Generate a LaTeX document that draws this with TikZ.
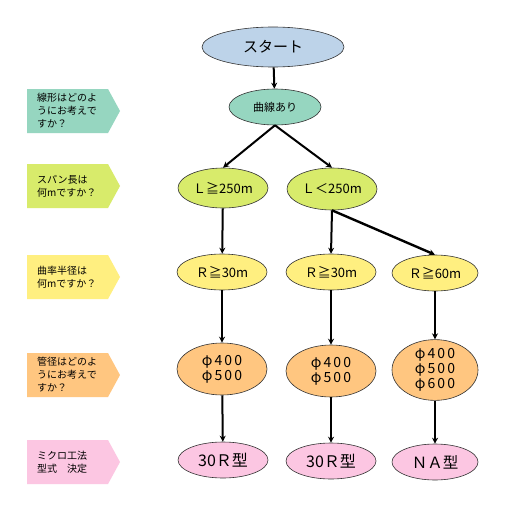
\documentclass[tikz,border=0pt]{standalone}
\usepackage{fontspec}
\setmainfont{Noto Sans CJK JP}
\newfontfamily\widejp[LetterSpace=15]{Noto Sans CJK JP}
\usetikzlibrary{shapes.geometric,arrows.meta}
\definecolor{cstart}{HTML}{BDD3E9}
\definecolor{cteal}{HTML}{96D6C0}
\definecolor{clime}{HTML}{D8EB6B}
\definecolor{cyel}{HTML}{FFEF80}
\definecolor{corange}{HTML}{FFC680}
\definecolor{cpink}{HTML}{FCC6E2}
\tikzset{
  ell/.style={ellipse, draw=black!80, line width=0.6pt, inner sep=0pt, align=center},
  arr/.style={-{Stealth[length=6pt,width=6pt]}, line width=2pt},
  tag/.style={anchor=west, align=left, font=\fontsize{10}{13}\selectfont, inner sep=0pt},
  etext/.style={font=\fontsize{13}{15}\selectfont},
  ptext/.style={font=\widejp\fontsize{14}{15}\selectfont}
}
\newcommand{\tagshape}[3]{% top y, bottom y, colour
  \fill[#3] (27,#1) -- (108,#1) -- (120,{(#1+#2)/2}) -- (108,#2) -- (27,#2) -- cycle;}
\begin{document}
\begin{tikzpicture}[x=1pt,y=-1pt]
\useasboundingbox (0,0) rectangle (511,519);
\fill[white] (0,0) rectangle (511,519);

% left tags
\tagshape{89}{133}{cteal}
\node[tag] (q1) at (37,111) {線形はどのよ\\うにお考えで\\すか？};
\tagshape{164}{208}{clime}
\node[tag] (q2) at (37,186) {スパン長は\\何mですか？};
\tagshape{255}{299}{cyel}
\node[tag] (q3) at (37,277) {曲率半径は\\何mですか？};
\tagshape{353}{397}{corange}
\node[tag] (q4) at (37,375) {管径はどのよ\\うにお考えで\\すか？};
\tagshape{440}{484}{cpink}
\node[tag] (q5) at (37,462) {ミクロ工法\\型式　決定};

% nodes
\node[ell, fill=cstart, minimum width=142pt, minimum height=40pt, font=\fontsize{15}{17}\selectfont] (start) at (273,47) {スタート};
\node[ell, fill=cteal, minimum width=92pt, minimum height=36pt, font=\fontsize{11}{13}\selectfont] (curve) at (275,107) {曲線あり};

\node[ell, fill=clime, minimum width=90pt, minimum height=40pt, etext] (L1) at (223,188) {Ｌ≧250m};
\node[ell, fill=clime, minimum width=90pt, minimum height=42pt, etext] (L2) at (332,189) {Ｌ＜250m};

\node[ell, fill=cyel, minimum width=90pt, minimum height=36pt, etext] (R1) at (222,272) {Ｒ≧30m};
\node[ell, fill=cyel, minimum width=90pt, minimum height=36pt, etext] (R2) at (331,272) {Ｒ≧30m};
\node[ell, fill=cyel, minimum width=86pt, minimum height=36pt, etext] (R3) at (435,273) {Ｒ≧60m};

\node[ell, fill=corange, minimum width=90pt, minimum height=52pt, ptext] (P1) at (222,369) {φ400\\φ500};
\node[ell, fill=corange, minimum width=90pt, minimum height=52pt, ptext] (P2) at (331,371) {φ400\\φ500};
\node[ell, fill=corange, minimum width=86pt, minimum height=54pt, ptext] (P3) at (435,370) {φ400\\φ500\\φ600};

\node[ell, fill=cpink, minimum width=90pt, minimum height=36pt, font=\fontsize{16}{18}\selectfont] (T1) at (223,460) {30Ｒ型};
\node[ell, fill=cpink, minimum width=90pt, minimum height=36pt, font=\fontsize{16}{18}\selectfont] (T2) at (331,461) {30Ｒ型};
\node[ell, fill=cpink, minimum width=86pt, minimum height=36pt, font=\fontsize{15.5}{17}\selectfont] (T3) at (435,462) {ＮＡ型};

% connectors
\draw[arr] (start) -- (curve);
\draw[arr] (curve.south) -- (L1.north);
\draw[arr] (curve.south) -- (L2.north);
\draw[arr] (L1) -- (R1);
\draw[arr] (L2.south) -- (R2.north);
\draw[arr, line width=2.4pt] (L2.south) -- (R3.north);
\draw[arr] (R1) -- (P1);
\draw[arr] (R2) -- (P2);
\draw[arr] (R3) -- (P3);
\draw[arr] (P1) -- (T1);
\draw[arr] (P2) -- (T2);
\draw[arr] (P3) -- (T3);
\end{tikzpicture}
\end{document}
